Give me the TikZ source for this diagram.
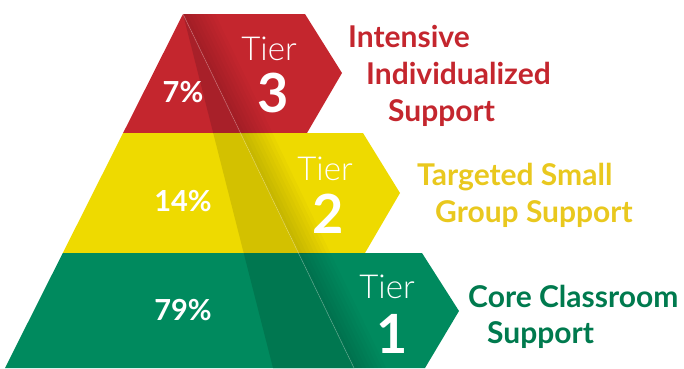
\documentclass[tikz,border=0pt]{standalone}
\usepackage{fontspec}
\setmainfont{Lato}
\newfontfamily\tierlight{Lato Light}

\definecolor{redbase}{HTML}{C4262E}
\definecolor{reddark}{HTML}{A82029}
\definecolor{yelbase}{HTML}{EEDA00}
\definecolor{yeldark}{HTML}{D3C100}
\definecolor{grnbase}{HTML}{008A5E}
\definecolor{grndark}{HTML}{007750}
\definecolor{redtext}{HTML}{C4262E}
\definecolor{yeltext}{HTML}{E9C81E}
\definecolor{grntext}{HTML}{007A4E}

\begin{document}
\begin{tikzpicture}[x=1pt, y=-1pt,
    pct/.style={font=\bfseries\fontsize{29}{29}\selectfont, text=white, inner sep=0pt, anchor=base},
    tierword/.style={font=\tierlight\fontsize{33}{33}\selectfont, text=white, inner sep=0pt, anchor=base},
    tiernum/.style={font=\bfseries\fontsize{54}{54}\selectfont, text=white, inner sep=0pt, anchor=base},
    tierlabel/.style={font=\bfseries\fontsize{30}{30}\selectfont, inner sep=0pt, anchor=base west}]

    \useasboundingbox (0,0) rectangle (684,368);

    % Front faces
    \fill[redbase] (183,14) -- (240.5,133) -- (123.1,133) -- cycle;
    \fill[yelbase] (123.1,133) -- (240.5,133) -- (298.4,253) -- (62.8,253) -- cycle;
    \fill[grnbase] (62.8,253) -- (298.4,253) -- (354,368) -- (5,368) -- cycle;

    % Folded stripes
    \fill[reddark] (183,14) -- (240.5,133) -- (213.2,133) -- cycle;
    \fill[yeldark] (213.2,133) -- (240.5,133) -- (298.4,253) -- (243.7,253) -- cycle;
    \fill[grndark] (243.7,253) -- (298.4,253) -- (354,368) -- (273,368) -- cycle;

    % Arrow flaps
    \fill[redbase] (183,14) -- (305,14) -- (342,73) -- (307,133) -- (240.5,133) -- cycle;
    \fill[yelbase] (240.5,133) -- (363,133) -- (400,193) -- (365,253) -- (298.4,253) -- cycle;
    \fill[grnbase] (298.4,253) -- (422,253) -- (459,311) -- (425,368) -- (354,368) -- cycle;

    % Shadow along the fold
    \foreach \ya/\yb/\xa/\xb in {14/133/183/240.5, 133/253/240.5/298.4, 253/368/298.4/354}
        \foreach \w in {4,8,...,32}
            \fill[black, opacity=0.02] (\xa,\ya) -- (\xa+\w,\ya) -- (\xb+\w,\yb) -- (\xb,\yb) -- cycle;
    \draw[white, opacity=0.3, line width=0.6pt] (183,14) -- (354,368);

    % Percentages
    \node[pct] (p3) at (183,102) {7\%};
    \node[pct] (p2) at (183,211) {14\%};
    \node[pct] (p1) at (183,320) {79\%};

    % Tier words and numbers
    \node[tierword] (t3) at (269,60) {Tier};
    \node[tiernum] (n3) at (273,112) {3};
    \node[tierword] (t2) at (325,180) {Tier};
    \node[tiernum] (n2) at (328,233) {2};
    \node[tierword] (t1) at (387,298) {Tier};
    \node[tiernum] (n1) at (392,353) {1};

    % Labels
    \node[tierlabel, text=redtext] (l3a) at (348,47) {Intensive};
    \node[tierlabel, text=redtext] (l3b) at (366,84) {Individualized};
    \node[tierlabel, text=redtext] (l3c) at (388,121) {Support};
    \node[tierlabel, text=yeltext] (l2a) at (417,185) {Targeted Small};
    \node[tierlabel, text=yeltext] (l2b) at (435,222) {Group Support};
    \node[tierlabel, text=grntext] (l1a) at (468,307) {Core Classroom};
    \node[tierlabel, text=grntext] (l1b) at (487,343) {Support};

\end{tikzpicture}
\end{document}
